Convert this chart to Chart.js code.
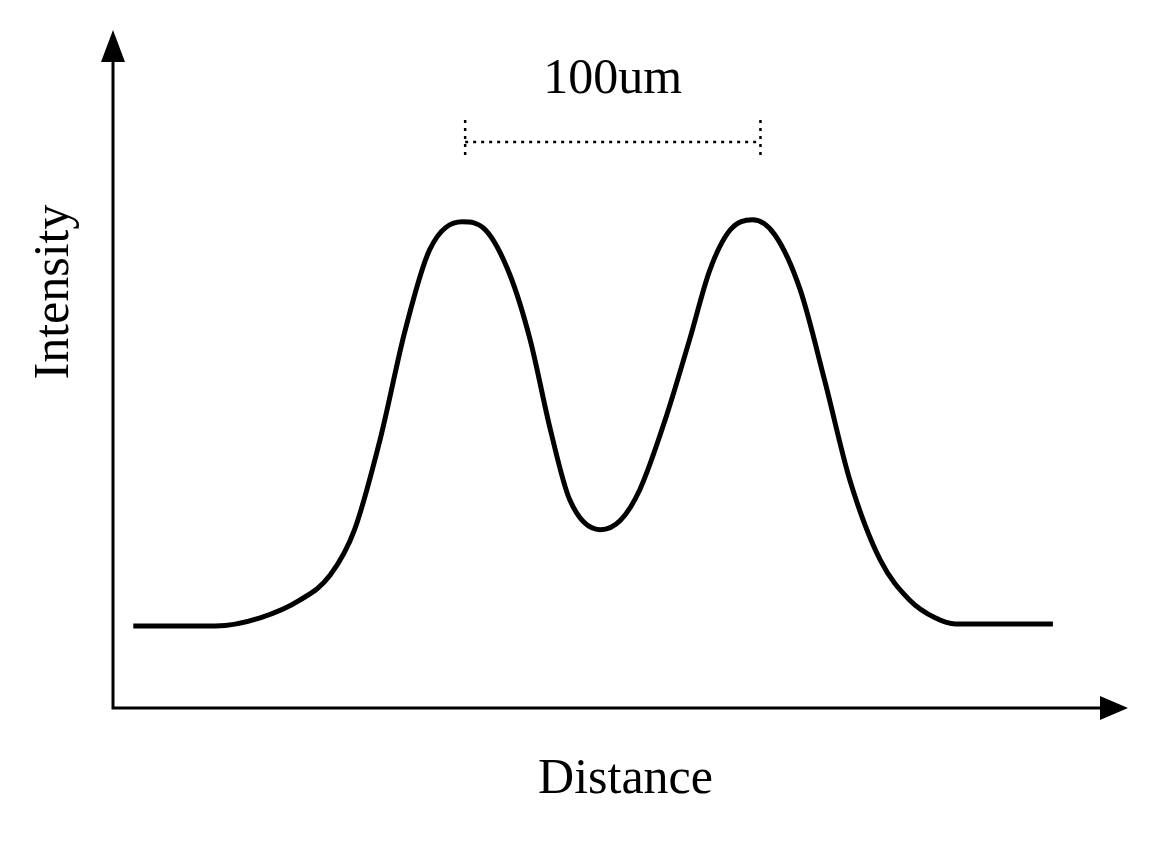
<!DOCTYPE html>
<html lang="en">
<head>
    <meta charset="UTF-8">
    <title>Intensity vs Distance</title>
    <script src="https://cdn.jsdelivr.net/npm/chart.js"></script>
    <style>
        body { margin: 0; background: #fff; }
    </style>
</head>
<body>
    <canvas id="profileChart" width="1150" height="844"></canvas>
    <script>
        // Profile data (distance and intensity as % of the axis length)
        const distance = [2.0, 10.1, 14.5, 18.4, 21.4, 23.8, 26.3, 28.8, 31.2, 34.4, 36.7, 39.1, 41.1, 43.1, 45.0, 48.0, 50.0, 51.9, 54.4, 56.8, 58.8, 60.8, 63.0, 65.2, 67.7, 70.1, 72.6, 75.6, 78.5, 81.0, 83.0, 92.6];
        const intensity = [12.1, 12.1, 13.3, 15.9, 19.6, 26.3, 39.5, 55.8, 67.6, 71.7, 70.5, 63.9, 54.3, 41.0, 30.7, 26.3, 27.7, 32.2, 42.5, 54.3, 64.6, 70.5, 72.0, 69.8, 61.7, 48.4, 33.6, 21.8, 15.9, 13.3, 12.4, 12.4];
        const peakPositions = [34.4, 63.0];
        const scaleLabel = '100um';
        const xTitle = 'Distance';
        const yTitle = 'Intensity';

        const serif = '"Liberation Serif", "DejaVu Serif", serif';

        // Axes with arrow heads, titles and scale bar
        const decorations = {
            id: 'decorations',
            afterDraw(chart) {
                const c = chart.ctx;
                const a = chart.chartArea;
                const xs = chart.scales.x;
                c.save();
                c.strokeStyle = '#000';
                c.fillStyle = '#000';
                c.lineWidth = 3;
                c.beginPath();
                c.moveTo(a.left, a.top + 20);
                c.lineTo(a.left, a.bottom);
                c.lineTo(a.right - 20, a.bottom);
                c.stroke();
                // arrow heads
                c.beginPath();
                c.moveTo(a.left, a.top);
                c.lineTo(a.left - 12, a.top + 32);
                c.lineTo(a.left + 12, a.top + 32);
                c.closePath();
                c.fill();
                c.beginPath();
                c.moveTo(a.right, a.bottom);
                c.lineTo(a.right - 28, a.bottom - 12);
                c.lineTo(a.right - 28, a.bottom + 12);
                c.closePath();
                c.fill();

                c.font = '50px ' + serif;
                c.textAlign = 'center';
                c.textBaseline = 'middle';
                c.fillText(xTitle, (a.left + a.right) / 2 + 5, 780);
                c.save();
                c.translate(55, 292);
                c.rotate(-Math.PI / 2);
                c.fillText(yTitle, 0, 0);
                c.restore();

                // scale bar between the peaks
                const x1 = xs.getPixelForValue(peakPositions[0]) + 3;
                const x2 = xs.getPixelForValue(peakPositions[1]) + 8;
                c.fillText(scaleLabel, (x1 + x2) / 2, 80);
                c.lineWidth = 2.5;
                c.setLineDash([3, 5]);
                c.beginPath();
                c.moveTo(x1, 120); c.lineTo(x1, 158);
                c.moveTo(x2, 120); c.lineTo(x2, 158);
                c.moveTo(x1, 142); c.lineTo(x2, 142);
                c.stroke();
                c.restore();
            }
        };

        const ctx = document.getElementById('profileChart').getContext('2d');
        new Chart(ctx, {
            type: 'line',
            data: {
                datasets: [{
                    data: distance.map((d, i) => ({ x: d, y: intensity[i] })),
                    borderColor: '#000',
                    borderWidth: 5,
                    pointRadius: 0,
                    cubicInterpolationMode: 'monotone',
                    fill: false
                }]
            },
            options: {
                responsive: false,
                animation: false,
                layout: { padding: { left: 113, right: 22, top: 30, bottom: 136 } },
                plugins: { legend: { display: false }, tooltip: { enabled: false } },
                scales: {
                    x: { type: 'linear', min: 0, max: 100, display: false },
                    y: { min: 0, max: 100, display: false }
                }
            },
            plugins: [decorations]
        });
    </script>
</body>
</html>
